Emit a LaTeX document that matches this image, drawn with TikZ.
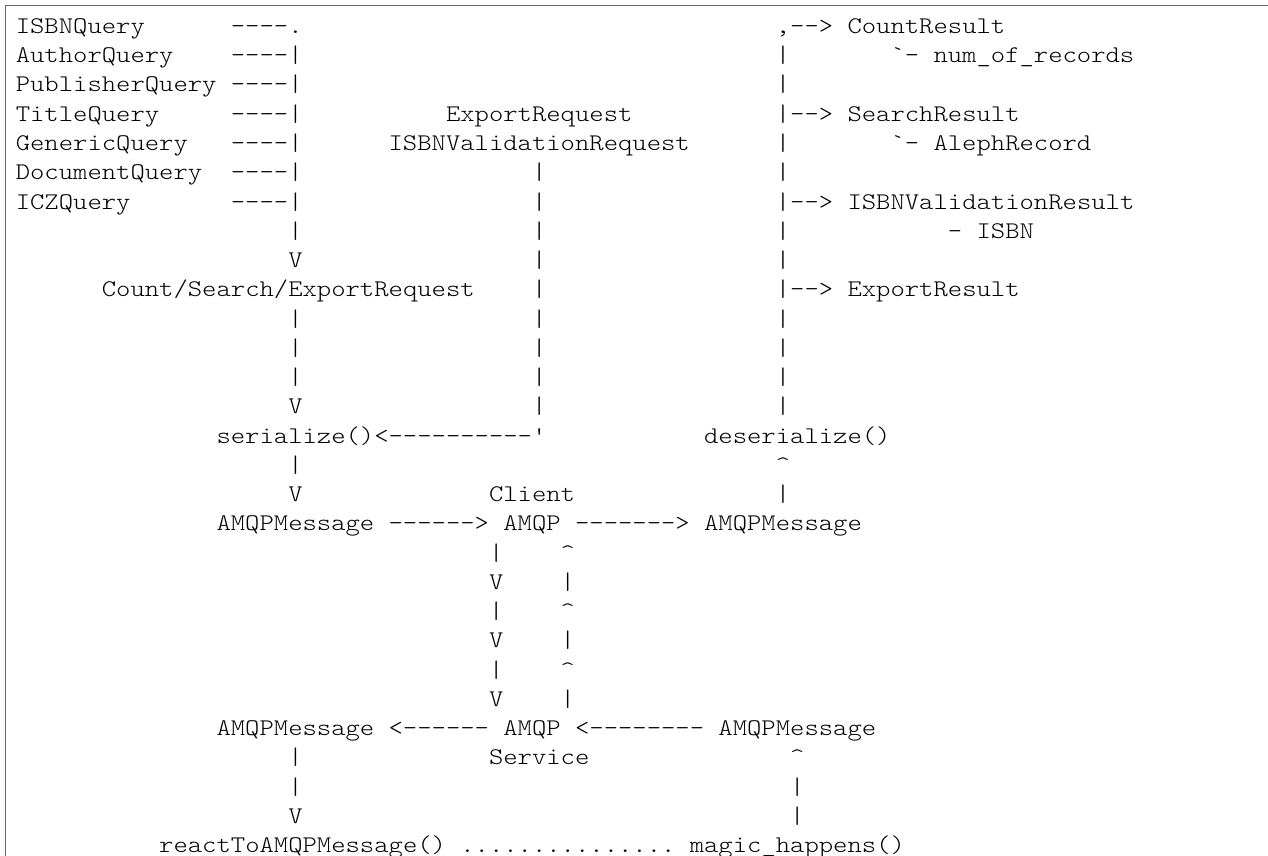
\documentclass[tikz,border=0pt]{standalone}
\usepackage{fontspec}
\setmonofont{lmmonolt10-regular.otf}[FakeStretch=1.143]
\usetikzlibrary{positioning}

\begin{document}
\begin{tikzpicture}[
    ascii/.style={
        inner sep=0pt,
        anchor=base west,
        font=\ttfamily\fontsize{11.95pt}{14pt}\selectfont
    },
    frame/.style={
        draw=black!60,
        line width=0.5pt
    }
]
\useasboundingbox (0,0) rectangle (634pt,-428pt);
\draw[frame] (2.5pt,-428pt) -- (2.5pt,-3pt) -- (634pt,-3pt);

% one unit = one character cell / one text line
\begin{scope}[shift={(7.7pt,-16.75pt)}, x=7.17pt, y=-14.625pt]

% Query classes
\node[ascii] (isbnq) at (0,0) {ISBNQuery};
\node[ascii] (authorq) at (0,1) {AuthorQuery};
\node[ascii] (publisherq) at (0,2) {PublisherQuery};
\node[ascii] (titleq) at (0,3) {TitleQuery};
\node[ascii] (genericq) at (0,4) {GenericQuery};
\node[ascii] (documentq) at (0,5) {DocumentQuery};
\node[ascii] (iczq) at (0,6) {ICZQuery};
\node[ascii] (qlink0) at (15,0) {----.};
\foreach \r in {1,...,6}
    \node[ascii] (qlink\r) at (15,\r) {----|};

% Left column down to serialize() and AMQPMessage
\foreach \r/\s in {7/|, 8/V, 10/|, 11/|, 12/|, 13/V, 15/|, 16/V}
    \node[ascii] (lcol\r) at (19,\r) {\s};
\node[ascii] (request) at (6,9) {Count/Search/ExportRequest};
\node[ascii] (serialize) at (14,14) {serialize()};
\node[ascii] (backlink) at (25,14) {<----------'};

% Export / validation requests
\node[ascii] (exportreq) at (30,3) {ExportRequest};
\node[ascii] (validreq) at (26,4) {ISBNValidationRequest};
\foreach \r in {5,...,13}
    \node[ascii] (mcol\r) at (36,\r) {|};

% Results
\node[ascii] (rlink0) at (53,0) {,-->};
\foreach \r/\s in {1/|, 2/|, 3/|-->, 4/|, 5/|, 6/|-->, 7/|, 8/|, 9/|-->, 10/|, 11/|, 12/|, 13/|}
    \node[ascii] (rcol\r) at (53,\r) {\s};
\node[ascii] (countres) at (58,0) {CountResult};
\node[ascii] (numrec) at (61,1) {`- num\_of\_records};
\node[ascii] (searchres) at (58,3) {SearchResult};
\node[ascii] (alephrec) at (61,4) {`- AlephRecord};
\node[ascii] (validres) at (58,6) {ISBNValidationResult};
\node[ascii] (isbn) at (65,7) {- ISBN};
\node[ascii] (exportres) at (58,9) {ExportResult};
\node[ascii] (deserialize) at (48,14) {deserialize()};
\node[ascii] (up15) at (53,15) {\textasciicircum};
\node[ascii] (up16) at (53,16) {|};

% Client side
\node[ascii] (client) at (33,16) {Client};
\node[ascii] (cmsgout) at (14,17) {AMQPMessage};
\node[ascii] (carr1) at (26,17) {------>};
\node[ascii] (camqp) at (34,17) {AMQP};
\node[ascii] (carr2) at (39,17) {------->};
\node[ascii] (cmsgin) at (48,17) {AMQPMessage};

% Between client and service
\foreach \r/\s/\t in {18/|/\textasciicircum, 19/V/|, 20/|/\textasciicircum, 21/V/|, 22/|/\textasciicircum, 23/V/|} {
    \node[ascii] (down\r) at (33,\r) {\s};
    \node[ascii] (back\r) at (38,\r) {\t};
}

% Service side
\node[ascii] (smsgin) at (14,24) {AMQPMessage};
\node[ascii] (sarr1) at (26,24) {<------};
\node[ascii] (samqp) at (34,24) {AMQP};
\node[ascii] (sarr2) at (39,24) {<--------};
\node[ascii] (smsgout) at (49,24) {AMQPMessage};
\node[ascii] (service) at (33,25) {Service};
\foreach \r/\s in {25/|, 26/|, 27/V}
    \node[ascii] (scol\r) at (19,\r) {\s};
\foreach \r/\s in {25/\textasciicircum, 26/|, 27/|}
    \node[ascii] (mcol\r) at (54,\r) {\s};
\node[ascii] (react) at (10,28) {reactToAMQPMessage()};
\node[ascii] (dots) at (31,28) {...............};
\node[ascii] (magic) at (47,28) {magic\_happens()};

\end{scope}
\end{tikzpicture}
\end{document}
